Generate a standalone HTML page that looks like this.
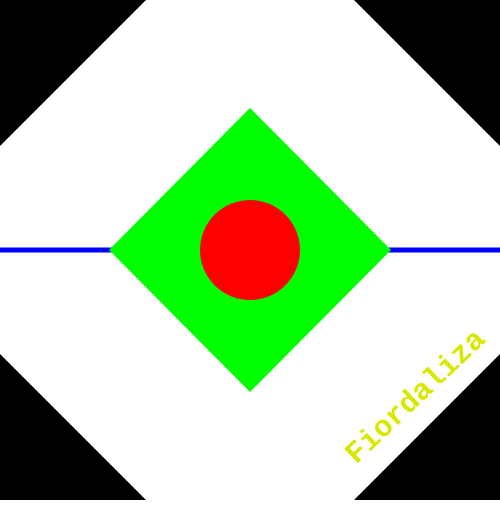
<!DOCTYPE html>
<html><head><meta charset="utf-8"><style>html,body{margin:0;padding:0;background:#fff}</style></head>
<body>
<svg width="500" height="500" viewBox="0 0 500 500">
<rect x="0" y="0" width="500" height="500" fill="#fff"/>
<polygon points="0,0 146,0 0,146" fill="#000"/>
<polygon points="500,0 354,0 500,146" fill="#000"/>
<polygon points="0,500 146,500 0,354" fill="#000"/>
<polygon points="500,500 354,500 500,354" fill="#000"/>
<rect x="0" y="247.5" width="500" height="5" fill="#0000ff"/>
<polygon points="250,108 391,250 250,392 109,250" fill="#00ff00"/>
<circle cx="250" cy="250" r="50" fill="#ff0000"/>
<text x="0" y="0" transform="translate(416,397) rotate(-43.5)" text-anchor="middle" dominant-baseline="middle" font-family="'Liberation Mono', monospace" font-weight="bold" font-size="30" fill="#d8e800">Fiordaliza</text>
</svg>
</body></html>
